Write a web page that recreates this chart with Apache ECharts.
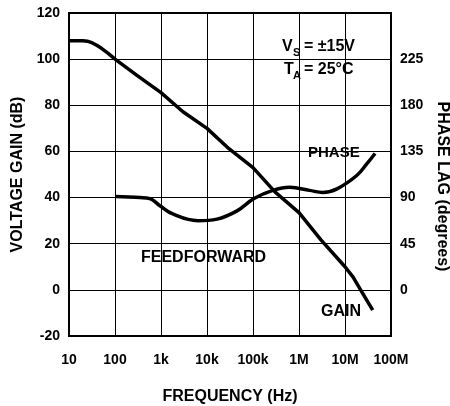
<!DOCTYPE html>
<html>
<head>
<meta charset="utf-8">
<script src="https://cdn.jsdelivr.net/npm/echarts@6/dist/echarts.min.js"></script>
<style>
  html, body { margin: 0; padding: 0; background: #fff; }
  #chart { width: 450px; height: 406px; }
</style>
</head>
<body>
<div id="chart"></div>
<script>
// Open-loop gain (dB) versus frequency (Hz)
const gainFreq = [10, 20, 25, 30, 40, 50, 70, 100, 300, 1e3, 3e3, 1e4, 3e4, 1e5, 3e5, 1e6, 3e6, 1e7, 1.5e7, 2.3e7, 4e7];
const gainDb   = [108, 108, 107.8, 107.3, 106, 104.8, 102.6, 100, 93, 85.5, 77.2, 70, 61.2, 53, 42.5, 33.5, 21.7, 10, 5.5, -0.8, -8.8];

// Phase lag (degrees) versus frequency (Hz), feedforward compensation
const phaseFreq = [100, 350, 570, 950, 1.8e3, 6.3e3, 1.65e4, 4.5e4, 1.05e5, 2.7e5, 6.3e5, 1.7e6, 3.3e6, 6.7e6, 1.8e7, 3e7, 4.5e7];
const phaseDeg  = [91, 90, 89, 82, 74, 67.5, 69, 77, 89, 97, 100, 97, 95, 98.5, 111.5, 123, 133];

// Axis tick labels
const freqLabels  = ['10', '100', '1k', '10k', '100k', '1M', '10M', '100M'];
const gainLabels  = ['-20', '0', '20', '40', '60', '80', '100', '120'];
const phaseLabels = ['', '0', '45', '90', '135', '180', '225', ''];

const FONT = "'Liberation Sans', Arial, Helvetica, sans-serif";

const zip = (xs, ys) => xs.map((x, i) => [x, ys[i]]);

const chart = echarts.init(document.getElementById('chart'), null, { renderer: 'canvas' });

const tickText = { color: '#000', fontFamily: FONT, fontWeight: 'bold', fontSize: 14 };
const gridLine = { show: true, lineStyle: { color: '#000', width: 1 } };
const titleText = { color: '#000', fontFamily: FONT, fontWeight: 'bold', fontSize: 16 };

chart.setOption({
  animation: false,
  backgroundColor: '#fff',
  grid: {
    left: 69, right: 59, top: 13, bottom: 70,
    containLabel: false, outerBoundsMode: 'none',
    show: true, borderColor: '#000', borderWidth: 2, backgroundColor: 'transparent'
  },
  xAxis: {
    type: 'log', logBase: 10, min: 10, max: 1e8,
    name: 'FREQUENCY (Hz)', nameLocation: 'middle', nameGap: 53,
    nameTextStyle: titleText,
    axisLine: { show: true, onZero: false, lineStyle: { color: '#000', width: 2 } },
    axisTick: { show: false },
    splitLine: gridLine,
    minorTick: { show: false },
    axisLabel: Object.assign({}, tickText, {
      margin: 17,
      formatter: v => freqLabels[Math.round(Math.log10(v)) - 1] || ''
    })
  },
  yAxis: [
    {
      type: 'value', min: -20, max: 120, interval: 20, position: 'left',
      name: 'VOLTAGE GAIN (dB)', nameLocation: 'middle', nameGap: 41, nameRotate: 90,
      nameTextStyle: titleText,
      axisLine: { show: true, onZero: false, lineStyle: { color: '#000', width: 2 } },
      axisTick: { show: false },
      splitLine: gridLine,
      axisLabel: Object.assign({}, tickText, {
        margin: 9,
        formatter: v => gainLabels[Math.round((v + 20) / 20)]
      })
    },
    {
      type: 'value', min: -45, max: 270, interval: 45, position: 'right',
      name: 'PHASE LAG (degrees)', nameLocation: 'middle', nameGap: 42, nameRotate: -90,
      nameTextStyle: Object.assign({}, titleText, { padding: [0, 0, 0, 24] }),
      axisLine: { show: true, onZero: false, lineStyle: { color: '#000', width: 2 } },
      axisTick: { show: false },
      splitLine: { show: false },
      axisLabel: Object.assign({}, tickText, {
        margin: 9,
        formatter: v => phaseLabels[Math.round((v + 45) / 45)]
      })
    }
  ],
  series: [
    {
      name: 'GAIN', type: 'line', yAxisIndex: 0, smooth: false, symbol: 'none',
      lineStyle: { color: '#000', width: 3.5, join: 'round' },
      data: zip(gainFreq, gainDb)
    },
    {
      name: 'PHASE', type: 'line', yAxisIndex: 1, smooth: 0.4, symbol: 'none',
      lineStyle: { color: '#000', width: 3.5 },
      data: zip(phaseFreq, phaseDeg)
    }
  ],
  graphic: [
    { type: 'text', left: 282, top: 39, style: { text: 'V', font: `bold 16px ${FONT}`, fill: '#000' } },
    { type: 'text', left: 293, top: 47, style: { text: 'S', font: `bold 11px ${FONT}`, fill: '#000' } },
    { type: 'text', left: 304, top: 39, style: { text: '= \u00B115V', font: `bold 16px ${FONT}`, fill: '#000' } },
    { type: 'text', left: 284, top: 62, style: { text: 'T', font: `bold 16px ${FONT}`, fill: '#000' } },
    { type: 'text', left: 293, top: 70, style: { text: 'A', font: `bold 11px ${FONT}`, fill: '#000' } },
    { type: 'text', left: 304, top: 62, style: { text: '= 25\u00B0C', font: `bold 16px ${FONT}`, fill: '#000' } },
    { type: 'text', left: 308, top: 145, style: { text: 'PHASE', font: `bold 15px ${FONT}`, fill: '#000' } },
    { type: 'text', left: 141, top: 250, style: { text: 'FEEDFORWARD', font: `bold 16px ${FONT}`, fill: '#000' } },
    { type: 'text', left: 321, top: 304, style: { text: 'GAIN', font: `bold 16px ${FONT}`, fill: '#000' } }
  ]
});
</script>
</body>
</html>
